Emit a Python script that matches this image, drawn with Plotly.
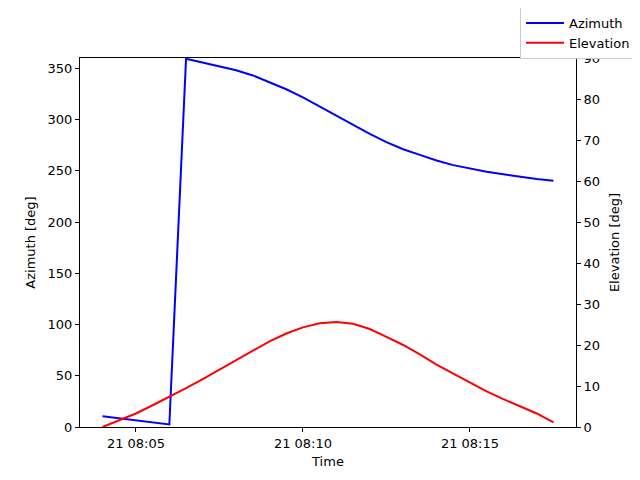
'''Azimuth / elevation pass plot, two y axes sharing a time axis.'''
import pandas as pd
import plotly.graph_objects as go

# sample times, every 30 s
times = pd.date_range('2023-06-21 08:04:00', '2023-06-21 08:17:30', freq='30s')

azimuth = [10.5, 8.5, 6.5, 4.5, 2.5, 359.3, 355.5, 352.0, 348.0, 343.0,
           336.5, 329.5, 321.5, 312.5, 303.5, 294.5, 286.0, 278.0, 271.0, 265.5,
           260.0, 255.5, 252.0, 249.0, 246.5, 244.0, 242.0, 240.3]

elevation = [0.0, 1.6, 3.3, 5.3, 7.3, 9.5, 11.7, 14.0, 16.4, 18.8,
             20.9, 22.8, 24.3, 25.3, 25.6, 25.2, 23.9, 22.0, 20.0, 17.7,
             15.2, 13.0, 10.8, 8.7, 6.8, 5.0, 3.3, 1.1]

az_ticks = [0, 50, 100, 150, 200, 250, 300, 350]
el_ticks = [0, 10, 20, 30, 40, 50, 60, 70, 80, 90]
time_ticks = pd.to_datetime(['2023-06-21 08:05', '2023-06-21 08:10', '2023-06-21 08:15'])

# matplotlib-like 5% margin on the time axis
span = times[-1] - times[0]
x_range = [times[0] - 0.05 * span, times[-1] + 0.05 * span]

font = dict(family='DejaVu Sans', size=13, color='black')
axis_style = dict(showline=True, linecolor='black', linewidth=1, ticks='outside',
                  ticklen=4, tickcolor='black', showgrid=False, zeroline=False,
                  automargin=False, tickfont=font)

# the page body adds an 8px offset, so margins are shifted to compensate
fig = go.Figure()
fig.add_trace(go.Scatter(x=times, y=azimuth, mode='lines', name='Azimuth',
                         line=dict(color='blue', width=2)))
fig.add_trace(go.Scatter(x=times, y=elevation, mode='lines', name='Elevation',
                         yaxis='y2', line=dict(color='red', width=2)))

fig.update_layout(
    width=640, height=480,
    margin=dict(l=72, r=72, t=50, b=61, autoexpand=False),
    paper_bgcolor='white', plot_bgcolor='white',
    font=font,
    showlegend=True,
    legend=dict(x=(628 - 72) / 496, y=1 + 51 / 369,
                xanchor='right', yanchor='top', bordercolor='#cccccc',
                borderwidth=1, bgcolor='white', font=font,
                tracegroupgap=0, itemwidth=38),
    xaxis=dict(axis_style, range=x_range, tickvals=time_ticks,
               tickformat='%d %H:%M', mirror=True,
               title=dict(text='Time', font=font, standoff=7)),
    yaxis=dict(axis_style, range=[0, 360], tickvals=az_ticks,
               title=dict(text='Azimuth [deg]', font=font, standoff=9)),
    yaxis2=dict(axis_style, range=[0, 90], tickvals=el_ticks, overlaying='y',
                side='right',
                title=dict(text='Elevation [deg]', font=font, standoff=10)),
)

fig.write_html('out.html')
